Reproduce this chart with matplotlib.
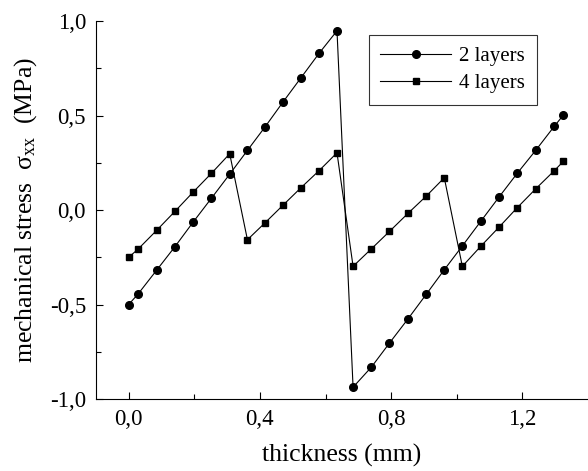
import matplotlib
matplotlib.use("Agg")
import matplotlib.pyplot as plt
from matplotlib.ticker import FixedLocator, FuncFormatter

# datos
x_2capas = [0.0, 0.028, 0.085, 0.141, 0.196, 0.252, 0.308, 0.362, 0.416, 0.470, 0.525, 0.580, 0.635,
            0.684, 0.740, 0.795, 0.851, 0.907, 0.962, 1.017, 1.073, 1.128, 1.184, 1.241, 1.297, 1.325]
y_2capas = [-0.50, -0.446, -0.319, -0.194, -0.065, 0.062, 0.190, 0.316, 0.441, 0.571, 0.700, 0.829, 0.949,
            -0.938, -0.831, -0.704, -0.577, -0.446, -0.316, -0.190, -0.060, 0.067, 0.194, 0.317, 0.443, 0.503]

x_4capas = [0.0, 0.028, 0.085, 0.141, 0.196, 0.252, 0.308,
            0.362, 0.416, 0.470, 0.525, 0.580, 0.635,
            0.684, 0.740, 0.795, 0.851, 0.907, 0.962,
            1.017, 1.073, 1.128, 1.184, 1.241, 1.297, 1.325]
y_4capas = [-0.25, -0.208, -0.108, -0.007, 0.094, 0.194, 0.298,
            -0.157, -0.067, 0.025, 0.118, 0.208, 0.303,
            -0.298, -0.205, -0.113, -0.018, 0.074, 0.171,
            -0.298, -0.192, -0.092, 0.012, 0.113, 0.208, 0.258]

xticks = [0.0, 0.4, 0.8, 1.2]
yticks = [-1.0, -0.5, 0.0, 0.5, 1.0]

plt.rcParams["font.family"] = ["Liberation Serif", "DejaVu Serif"]
plt.rcParams["mathtext.fontset"] = "custom"
plt.rcParams["mathtext.rm"] = "Liberation Serif"
plt.rcParams["mathtext.it"] = "Liberation Serif"

fig = plt.figure(figsize=(5.88, 4.71), dpi=100)
ax = fig.add_axes([0.163, 0.153, 0.837, 0.802])

ax.plot(x_2capas, y_2capas, color="black", lw=0.8, marker="o", ms=5.5, label="2 layers")
ax.plot(x_4capas, y_4capas, color="black", lw=0.8, marker="s", ms=5.0, label="4 layers")

ax.set_xlim(-0.1, 1.4)
ax.set_ylim(-1.0, 1.0)

coma = FuncFormatter(lambda v, pos: f"{v:.1f}".replace(".", ","))
ax.xaxis.set_major_locator(FixedLocator(xticks))
ax.xaxis.set_minor_locator(FixedLocator([0.2, 0.6, 1.0]))
ax.yaxis.set_major_locator(FixedLocator(yticks))
ax.yaxis.set_minor_locator(FixedLocator([-0.75, -0.25, 0.25, 0.75]))
ax.xaxis.set_major_formatter(coma)
ax.yaxis.set_major_formatter(coma)

ax.tick_params(which="both", direction="in", labelsize=16.5, width=0.8)
ax.tick_params(which="major", length=5)
ax.tick_params(which="minor", length=3.5)
ax.tick_params(axis="x", pad=7)
ax.tick_params(axis="y", pad=7)

ax.spines["top"].set_visible(False)
ax.spines["right"].set_visible(False)
ax.spines["left"].set_linewidth(0.8)
ax.spines["bottom"].set_linewidth(0.8)

ax.set_xlabel("thickness (mm)", fontsize=18.5, labelpad=10)
ax.set_ylabel(r"mechanical stress  $\mathrm{\sigma_{xx}}$  (MPa)", fontsize=18.5, labelpad=8)

leg = ax.legend(loc="upper right", bbox_to_anchor=(0.896, 0.963), borderaxespad=0,
                fontsize=15, fancybox=False, edgecolor="black", handlelength=3.4,
                borderpad=0.55, labelspacing=0.35, handletextpad=0.4)
leg.get_frame().set_linewidth(0.8)

plt.savefig("out.png", dpi=100)
